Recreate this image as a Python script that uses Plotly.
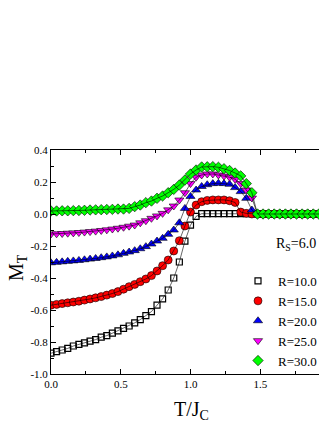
import plotly.graph_objects as go

x_vals = [0.00, 0.04, 0.08, 0.12, 0.16, 0.20, 0.24, 0.28, 0.32, 0.36,
          0.40, 0.44, 0.48, 0.52, 0.56, 0.60, 0.64, 0.68, 0.72, 0.76,
          0.80, 0.84, 0.88, 0.92, 0.96, 1.00, 1.04, 1.08, 1.12, 1.16,
          1.20, 1.24, 1.28, 1.32, 1.36, 1.40, 1.44, 1.48, 1.52, 1.56,
          1.60, 1.64, 1.68, 1.72, 1.76, 1.80, 1.84, 1.88, 1.92, 1.96, 2.00]

tail = [0.0] * 14

m_r10 = [-0.87, -0.86, -0.85, -0.84, -0.825, -0.815, -0.805, -0.795, -0.785, -0.77,
         -0.76, -0.745, -0.73, -0.715, -0.70, -0.68, -0.66, -0.635, -0.61, -0.57,
         -0.53, -0.475, -0.40, -0.30, -0.17, -0.07, -0.015, 0.002, 0.002, 0.002,
         0.002, 0.002, 0.002, 0.002, 0.002, 0.002, 0.002] + tail
m_r15 = [-0.57, -0.565, -0.56, -0.555, -0.55, -0.545, -0.538, -0.531, -0.524, -0.516,
         -0.507, -0.497, -0.485, -0.47, -0.454, -0.44, -0.423, -0.406, -0.385, -0.356,
         -0.323, -0.2875, -0.231, -0.167, -0.075, 0.012, 0.056, 0.077, 0.085, 0.088,
         0.088, 0.088, 0.083, 0.072, 0.012, 0.004, 0.0] + tail
m_r20 = [-0.305, -0.302, -0.299, -0.296, -0.293, -0.29, -0.286, -0.282, -0.278, -0.273,
         -0.268, -0.262, -0.255, -0.246, -0.2375, -0.229, -0.217, -0.204, -0.1875, -0.169,
         -0.152, -0.127, -0.10, -0.055, 0.035, 0.11, 0.15, 0.172, 0.183, 0.19,
         0.192, 0.19, 0.186, 0.165, 0.14, 0.098, 0.025] + tail
m_r25 = [-0.125, -0.124, -0.122, -0.12, -0.118, -0.116, -0.113, -0.11, -0.107, -0.103,
         -0.099, -0.094, -0.089, -0.083, -0.076, -0.069, -0.055, -0.042, -0.027, -0.012,
         0.004, 0.026, 0.05, 0.0875, 0.133, 0.19, 0.23, 0.244, 0.25, 0.25,
         0.244, 0.237, 0.23, 0.217, 0.19, 0.15, 0.10] + tail
m_r30 = [0.019, 0.019, 0.02, 0.02, 0.021, 0.022, 0.023, 0.025, 0.026, 0.027,
         0.028, 0.029, 0.031, 0.031, 0.035, 0.046, 0.056, 0.071, 0.081, 0.098,
         0.1125, 0.133, 0.154, 0.181, 0.2125, 0.25, 0.275, 0.294, 0.295, 0.296,
         0.292, 0.283, 0.272, 0.256, 0.238, 0.19, 0.133] + tail

series_names = ["R=10.0", "R=15.0", "R=20.0", "R=25.0", "R=30.0"]
series_vals = [m_r10, m_r15, m_r20, m_r25, m_r30]
symbols = ["square-open", "circle", "triangle-up", "triangle-down", "diamond"]
colors = ["black", "#FF0000", "#0000FF", "#FF00FF", "#00FF00"]
sizes = [6, 8, 8, 8, 8]

y_ticks = [0.4, 0.2, 0.0, -0.2, -0.4, -0.6, -0.8, -1.0]
y_tick_text = ["0.4", "0.2", "0.0", "-0.2", "-0.4", "-0.6", "-0.8", "-1.0"]
x_ticks = [0.0, 0.5, 1.0, 1.5, 2.0]
x_tick_text = ["0.0", "0.5", "1.0", "1.5", "2.0"]

SERIF = "Liberation Serif"

fig = go.Figure()
for name, vals, sym, col, sz in zip(series_names, series_vals, symbols, colors, sizes):
    if sym == "square-open":
        mk = dict(symbol=sym, size=sz, color="black", line=dict(color="black", width=1.2))
    else:
        mk = dict(symbol=sym, size=sz, color=col, line=dict(color="black", width=0.6))
    fig.add_trace(go.Scatter(x=x_vals, y=vals, mode="markers", name=name, marker=mk))
    fig.add_trace(go.Scatter(x=x_vals, y=vals, mode="lines", showlegend=False,
                             line=dict(color="black", width=0.6), hoverinfo="skip"))

# page has an 8px body margin: plot area spans x 51..330, y 150..374 on the page
fig.update_layout(
    width=327, height=423, autosize=False,
    margin=dict(l=43, r=5, t=142, b=57, pad=0),
    paper_bgcolor="white", plot_bgcolor="white",
    showlegend=True,
    font=dict(family=SERIF, color="black"),
    xaxis=dict(range=[0, 2.0], tickvals=x_ticks, ticktext=x_tick_text,
               ticks="inside", ticklen=5, tickwidth=1, tickcolor="black",
               showline=True, linecolor="black", linewidth=1, mirror="ticks",
               showgrid=False, zeroline=False,
               tickfont=dict(family=SERIF, size=11, color="black"),
               minor=dict(dtick=0.25, tick0=0, ticks="inside", ticklen=3, tickcolor="black")),
    yaxis=dict(range=[-1.0, 0.4], tickvals=y_ticks, ticktext=y_tick_text,
               ticks="inside", ticklen=5, tickwidth=1, tickcolor="black",
               showline=True, linecolor="black", linewidth=1, mirror="ticks",
               showgrid=False, zeroline=False,
               tickfont=dict(family=SERIF, size=11, color="black"),
               minor=dict(dtick=0.1, tick0=0, ticks="inside", ticklen=3, tickcolor="black")),
    legend=dict(x=(238 - 51) / 279, xanchor="left",
                y=(374 - 266) / 224, yanchor="top",
                bgcolor="rgba(0,0,0,0)", borderwidth=0,
                font=dict(family=SERIF, size=13, color="black"),
                tracegroupgap=0, itemwidth=30),
    annotations=[
        dict(text="R<sub>S</sub>=6.0", xref="paper", yref="paper",
             x=(296 - 51) / 279, y=(374 - 244) / 224, xanchor="center", yanchor="middle",
             showarrow=False, font=dict(family=SERIF, size=14, color="black")),
        dict(text="M<sub>T</sub>", xref="paper", yref="paper",
             x=0, xshift=-34, y=(374 - 268) / 224, xanchor="center", yanchor="middle",
             textangle=-90, showarrow=False,
             font=dict(family=SERIF, size=20, color="black")),
        dict(text="T/J<sub>C</sub>", xref="paper", yref="paper",
             x=(191 - 51) / 279, y=0, yshift=-36, xanchor="center", yanchor="middle",
             showarrow=False, font=dict(family=SERIF, size=20, color="black")),
    ],
)

fig.write_html("out.html")
